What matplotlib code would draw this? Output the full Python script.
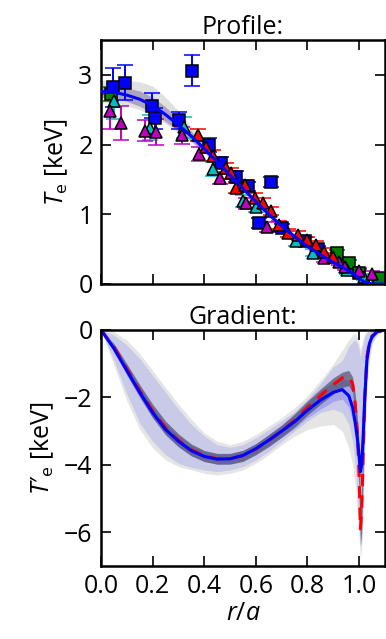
import numpy as np
import matplotlib
matplotlib.use("Agg")
import matplotlib.pyplot as plt

plt.rcParams['font.family'] = ['Open Sans', 'DejaVu Sans']
plt.rcParams['mathtext.fontset'] = 'custom'
plt.rcParams['mathtext.rm'] = 'Open Sans'
plt.rcParams['mathtext.it'] = 'Open Sans:italic'
plt.rcParams['font.size'] = 18

# --- profile fit (top panel) ---
fx = [0, 0.05, 0.1, 0.15, 0.2, 0.25, 0.3, 0.35, 0.4, 0.45, 0.5, 0.55, 0.6,
      0.65, 0.7, 0.75, 0.8, 0.85, 0.9, 0.95, 0.98, 1.0, 1.02, 1.05, 1.1]
fit = [2.76, 2.75, 2.71, 2.65, 2.56, 2.43, 2.28, 2.12, 1.94, 1.75, 1.56, 1.37, 1.18,
       1.0, 0.83, 0.68, 0.54, 0.42, 0.31, 0.21, 0.14, 0.08, 0.03, 0.0, 0.0]
fit_hi2 = [2.92, 2.93, 2.92, 2.9, 2.84, 2.68, 2.48, 2.26, 2.04, 1.82, 1.62, 1.42, 1.23,
           1.05, 0.88, 0.73, 0.59, 0.47, 0.36, 0.26, 0.19, 0.13, 0.07, 0.03, 0.02]
fit_lo2 = [2.6, 2.6, 2.56, 2.5, 2.41, 2.3, 2.17, 2.03, 1.87, 1.69, 1.51, 1.32, 1.13,
           0.95, 0.78, 0.63, 0.49, 0.37, 0.26, 0.16, 0.09, 0.03, -0.02, -0.03, -0.02]
fit_hi1 = [2.84, 2.84, 2.81, 2.77, 2.68, 2.54, 2.37, 2.19, 1.99, 1.79, 1.59, 1.4, 1.21,
           1.03, 0.86, 0.71, 0.57, 0.45, 0.34, 0.24, 0.17, 0.11, 0.05, 0.02, 0.01]
fit_lo1 = [2.68, 2.67, 2.62, 2.55, 2.45, 2.33, 2.2, 2.05, 1.89, 1.71, 1.53, 1.34, 1.15,
           0.97, 0.8, 0.65, 0.51, 0.39, 0.28, 0.18, 0.11, 0.05, 0.01, -0.02, -0.01]

# --- measurements ---
bs_x = [0.048, 0.093, 0.196, 0.208, 0.302, 0.354, 0.42, 0.466, 0.524, 0.569, 0.614, 0.659, 0.70, 0.79, 0.84]
bs_y = [2.82, 2.89, 2.56, 2.38, 2.35, 3.06, 2.0, 1.74, 1.54, 1.40, 0.87, 1.46, 0.8, 0.62, 0.5]
bs_e = [0.28, 0.25, 0.18, 0.15, 0.12, 0.22, 0.1, 0.08, 0.08, 0.07, 0.07, 0.07, 0.06, 0.05, 0.05]

gs_x = [0.04, 0.916, 0.96, 1.0, 1.077]
gs_y = [2.72, 0.44, 0.3, 0.16, 0.09]
gs_e = [0.1, 0.05, 0.05, 0.05, 0.05]

ct_x = [0.05, 0.19, 0.32, 0.434, 0.55, 0.6, 0.755, 0.82, 0.955, 1.02]
ct_y = [2.62, 2.24, 2.25, 1.65, 1.19, 1.1, 0.61, 0.45, 0.2, 0.1]
ct_e = [0.25, 0.18, 0.15, 0.1, 0.08, 0.07, 0.06, 0.05, 0.05, 0.05]

mt_x = [0.035, 0.077, 0.17, 0.212, 0.314, 0.38, 0.46, 0.563, 0.642, 0.865, 0.923, 0.946, 1.0, 1.05]
mt_y = [2.48, 2.31, 2.2, 2.18, 2.13, 1.86, 1.52, 1.16, 0.82, 0.37, 0.32, 0.25, 0.18, 0.14]
mt_e = [0.25, 0.24, 0.15, 0.18, 0.12, 0.1, 0.09, 0.08, 0.07, 0.05, 0.05, 0.05, 0.05, 0.05]

rt_x = [0.376, 0.405, 0.434, 0.485, 0.505, 0.524, 0.556, 0.595, 0.627, 0.659, 0.69,
        0.723, 0.762, 0.8, 0.833, 0.865, 0.897]
rt_y = [2.14, 1.97, 1.84, 1.66, 1.59, 1.38, 1.42, 1.23, 1.16, 1.05, 0.85,
        0.73, 0.7, 0.63, 0.56, 0.46, 0.39]
rt_e = [0.09, 0.09, 0.08, 0.08, 0.08, 0.07, 0.07, 0.07, 0.07, 0.06, 0.06,
        0.06, 0.06, 0.05, 0.05, 0.05, 0.05]

# --- gradient (bottom panel) ---
gx = [0, 0.05, 0.1, 0.15, 0.2, 0.25, 0.3, 0.35, 0.4, 0.45, 0.5, 0.55, 0.6, 0.65, 0.7,
      0.75, 0.8, 0.85, 0.9, 0.935, 0.96, 0.975, 0.985, 0.993, 1.0, 1.005, 1.01, 1.016,
      1.022, 1.03, 1.04, 1.05, 1.07, 1.1]
g_blue = [0, -0.55, -1.2, -1.85, -2.45, -2.95, -3.3, -3.58, -3.75, -3.83, -3.82, -3.72,
          -3.52, -3.27, -3.0, -2.72, -2.38, -2.08, -1.85, -1.77, -1.95, -2.3, -2.75, -3.2,
          -3.75, -4.2, -4.0, -3.1, -2.0, -0.9, -0.4, -0.2, -0.05, 0]
g_red = [0, -0.5, -1.15, -1.8, -2.4, -2.9, -3.27, -3.55, -3.73, -3.82, -3.82, -3.73,
         -3.53, -3.28, -3.0, -2.68, -2.3, -1.95, -1.62, -1.42, -1.38, -1.6, -2.2, -3.0,
         -4.3, -5.9, -5.3, -3.6, -2.0, -0.8, -0.35, -0.18, -0.05, 0]
gb_hi2 = [0, -0.15, -0.45, -0.85, -1.35, -1.85, -2.35, -2.8, -3.15, -3.4, -3.48, -3.4,
          -3.2, -2.95, -2.7, -2.42, -2.05, -1.6, -1.1, -0.9, -0.5, -0.35, -0.3, -0.4,
          -0.6, -0.8, -0.6, -0.4, -0.2, -0.08, -0.03, 0, 0, 0]
gb_lo2 = [0, -0.9, -1.9, -2.75, -3.3, -3.7, -3.95, -4.08, -4.15, -4.2, -4.15, -4.05,
          -3.85, -3.6, -3.3, -3.0, -2.7, -2.45, -2.35, -2.45, -2.8, -3.3, -4.0, -4.9,
          -5.8, -6.4, -6.2, -5.0, -3.2, -1.5, -0.7, -0.35, -0.1, 0]
gr_hi2 = [0, -0.05, -0.3, -0.7, -1.2, -1.7, -2.2, -2.65, -3.05, -3.3, -3.4, -3.3,
          -3.1, -2.85, -2.6, -2.3, -1.95, -1.5, -1.0, -0.6, -0.3, -0.15, -0.1, -0.2,
          -0.4, -0.6, -0.4, -0.25, -0.1, -0.05, 0, 0, 0, 0]
gr_lo2 = [0, -1.05, -2.1, -2.95, -3.5, -3.85, -4.05, -4.15, -4.25, -4.3, -4.25, -4.15,
          -3.95, -3.7, -3.4, -3.15, -2.95, -2.85, -2.8, -3.0, -3.5, -4.0, -4.6, -5.4,
          -6.2, -6.8, -6.5, -5.4, -3.6, -1.8, -0.9, -0.45, -0.15, 0]
gb_hi1 = [0, -0.45, -1.05, -1.68, -2.28, -2.78, -3.13, -3.42, -3.6, -3.68, -3.67, -3.57,
          -3.37, -3.1, -2.82, -2.52, -2.15, -1.8, -1.55, -1.45, -1.5, -1.8, -2.2, -2.7,
          -3.3, -3.9, -3.6, -2.7, -1.6, -0.7, -0.3, -0.15, -0.03, 0]
gb_lo1 = [0, -0.65, -1.35, -2.02, -2.62, -3.12, -3.47, -3.74, -3.9, -3.98, -3.97, -3.87,
          -3.67, -3.44, -3.18, -2.92, -2.6, -2.35, -2.12, -2.05, -2.3, -2.7, -3.2, -3.7,
          -4.2, -4.6, -4.4, -3.5, -2.4, -1.2, -0.55, -0.28, -0.08, 0]
gr_hi1 = [0, -0.4, -1.0, -1.62, -2.2, -2.7, -3.08, -3.38, -3.57, -3.66, -3.66, -3.57,
          -3.37, -3.1, -2.82, -2.48, -2.1, -1.75, -1.42, -1.25, -1.2, -1.4, -1.9, -2.6,
          -3.7, -5.2, -4.6, -3.0, -1.6, -0.6, -0.25, -0.12, -0.03, 0]
gr_lo1 = [0, -0.6, -1.32, -1.98, -2.6, -3.1, -3.46, -3.73, -3.9, -3.98, -3.98, -3.9,
          -3.7, -3.46, -3.18, -2.88, -2.52, -2.2, -1.9, -1.7, -1.65, -1.85, -2.5, -3.4,
          -4.9, -6.4, -6.0, -4.2, -2.4, -1.0, -0.45, -0.25, -0.07, 0]

fig = plt.figure(figsize=(3.86, 6.39), dpi=100)
ax1 = fig.add_axes([0.2617, 0.5556, 0.7355, 0.3818])
ax2 = fig.add_axes([0.2617, 0.1142, 0.7355, 0.3694])

# top panel
ax1.fill_between(fx, fit_lo2, fit_hi2, color='k', alpha=0.12, lw=0)
ax1.fill_between(fx, fit_lo1, fit_hi1, color=(0.3, 0.2, 0.5), alpha=0.35, lw=0)

def pts(x, y, e, c, m, ms):
    ax1.errorbar(x, y, yerr=e, fmt=m, color=c, mfc=c, mec='k', ms=ms, mew=1.1,
                 ecolor=c, elinewidth=1.4, capsize=5.5, capthick=1.4)

pts(gs_x, gs_y, gs_e, 'g', 's', 8)
pts(bs_x, bs_y, bs_e, 'b', 's', 8)
pts(ct_x, ct_y, ct_e, 'c', '^', 9)
pts(mt_x, mt_y, mt_e, 'm', '^', 9)
pts(rt_x, rt_y, rt_e, 'r', '^', 9)
ax1.plot(fx, fit, color='b', lw=2.2, zorder=5)

ax1.set_xlim(0, 1.1)
ax1.set_ylim(0, 3.5)
ax1.set_yticks([0, 1, 2, 3])
ax1.set_xticks([0, 0.2, 0.4, 0.6, 0.8, 1.0])
ax1.set_xticklabels([])
ax1.set_ylabel(r"$T_{\rm e}$ [keV]", labelpad=6)
ax1.set_title("Profile:", fontsize=18, pad=4)

# bottom panel
ax2.fill_between(gx, gr_lo2, gr_hi2, color='k', alpha=0.1, lw=0)
ax2.fill_between(gx, gb_lo2, gb_hi2, color='b', alpha=0.12, lw=0)
ax2.fill_between(gx, gb_lo1, gb_hi1, color='b', alpha=0.18, lw=0)
ax2.fill_between(gx, gr_lo1, gr_hi1, color=(0.2, 0.2, 0.3), alpha=0.55, lw=0)
ax2.plot(gx, g_red, color='r', lw=2.2, ls='--', dashes=(4, 3))
ax2.plot(gx, g_blue, color='b', lw=2.2)

ax2.set_xlim(0, 1.1)
ax2.set_ylim(-7, 0)
ax2.set_yticks([0, -2, -4, -6])
ax2.set_xticks([0, 0.2, 0.4, 0.6, 0.8, 1.0])
ax2.set_xticklabels(["0.0", "0.2", "0.4", "0.6", "0.8", "1.0"])
ax2.set_ylabel("$T\\mathrm{\u2032}_{\\rm e}$ [keV]", labelpad=6)
ax2.set_xlabel(r"$r/a$", labelpad=1)
ax2.set_title("Gradient:", fontsize=18, pad=4)

for ax in (ax1, ax2):
    ax.tick_params(direction='in', length=7, width=1.2, top=True, right=True, pad=6)
    for s in ax.spines.values():
        s.set_linewidth(1.8)

fig.savefig("out.png", dpi=100)
